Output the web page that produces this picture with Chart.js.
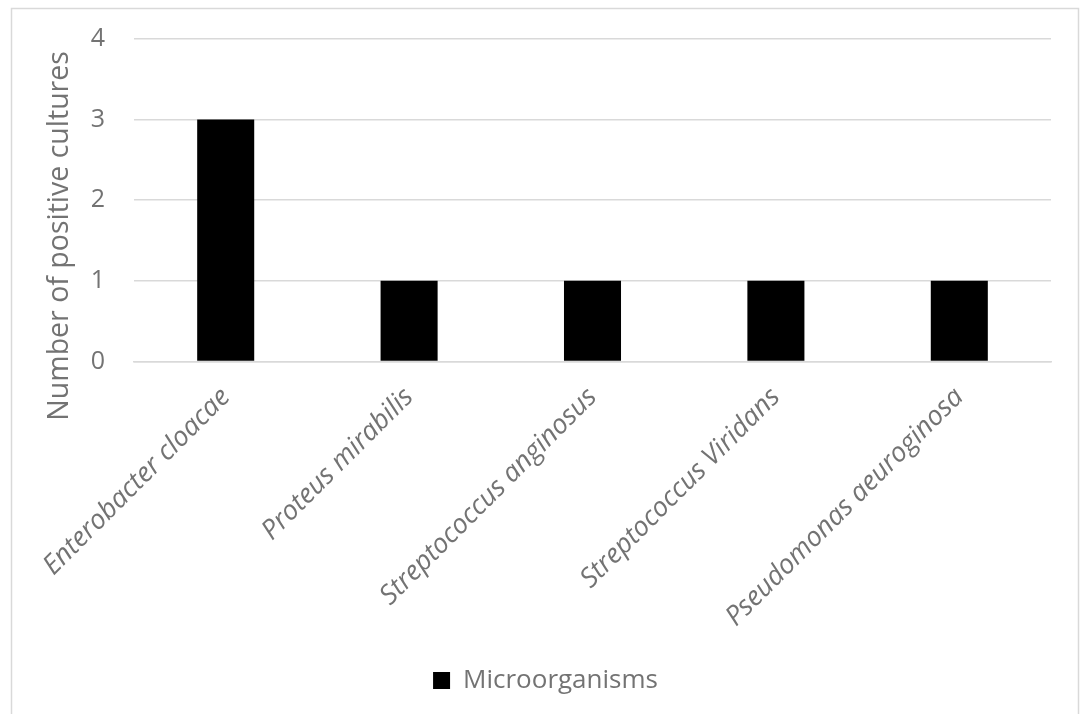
<!DOCTYPE html>
<html>
<head>
<meta charset="utf-8">
<script src="https://cdn.jsdelivr.net/npm/chart.js@4/dist/chart.umd.min.js"></script>
<style>
  html, body { margin: 0; padding: 0; background: #fff; }
  #wrap { position: relative; width: 1081px; height: 714px; }
</style>
</head>
<body>
<div id="wrap"><canvas id="chart" width="1081" height="714"></canvas></div>
<script>
const categories = [
  'Enterobacter cloacae',
  'Proteus mirabilis',
  'Streptococcus anginosus',
  'Streptococcus Viridans',
  'Pseudomonas aeuroginosa'
];
const positiveCultures = [3, 1, 1, 1, 1];
const yTicks = [0, 1, 2, 3, 4];
const seriesName = 'Microorganisms';
const yTitle = 'Number of positive cultures';

const textColor = '#737373';
const gridColor = '#d9d9d9';
const fontFamily = '"Open Sans", "Noto Sans", sans-serif';

// light frame around the whole chart
const frame = {
  id: 'frame',
  beforeDraw(chart) {
    const ctx = chart.ctx;
    ctx.save();
    ctx.fillStyle = '#fff';
    ctx.fillRect(0, 0, chart.width, chart.height);
    ctx.strokeStyle = gridColor;
    ctx.lineWidth = 1.5;
    ctx.strokeRect(11.5, 8.5, 1067, 720);
    ctx.restore();
  }
};

// vertical value-axis title, centred a little below the middle of the plot
const axisTitle = {
  id: 'axisTitle',
  afterDraw(chart) {
    const ctx = chart.ctx;
    const area = chart.chartArea;
    ctx.save();
    ctx.translate(60, area.bottom - 125.5);
    ctx.rotate(-Math.PI / 2);
    ctx.font = '28.5px ' + fontFamily;
    ctx.fillStyle = textColor;
    ctx.textAlign = 'center';
    ctx.textBaseline = 'middle';
    ctx.fillText(yTitle, 0, 0);
    ctx.restore();
  }
};

new Chart(document.getElementById('chart'), {
  type: 'bar',
  data: {
    labels: categories,
    datasets: [{
      label: seriesName,
      data: positiveCultures,
      backgroundColor: '#000000',
      borderWidth: 0,
      categoryPercentage: 1,
      barPercentage: 0.311
    }]
  },
  options: {
    responsive: false,
    animation: false,
    layout: { padding: { left: 40, right: 30, top: 39, bottom: 10.6 } },
    plugins: {
      tooltip: { enabled: false },
      legend: {
        position: 'bottom',
        labels: {
          color: textColor,
          font: { family: fontFamily, size: 26 },
          boxWidth: 17,
          boxHeight: 17,
          padding: 8
        }
      }
    },
    scales: {
      x: {
        grid: { display: false },
        border: { display: true, color: gridColor, width: 1.5 },
        ticks: {
          color: textColor,
          font: { family: fontFamily, size: 27, style: 'italic' },
          minRotation: 45,
          maxRotation: 45,
          autoSkip: false,
          padding: 12
        },
        afterFit(axis) { axis.height = 298; }
      },
      y: {
        min: 0,
        max: 4,
        afterBuildTicks(axis) { axis.ticks = yTicks.map(v => ({ value: v })); },
        grid: {
          color: gridColor,
          lineWidth: 1.5,
          drawTicks: true,
          tickLength: 26,
          tickColor: 'rgba(0,0,0,0)'
        },
        border: { display: false },
        ticks: {
          color: textColor,
          font: { family: fontFamily, size: 25 },
          padding: 3
        },
        afterFit(axis) { axis.width = 94; }
      }
    }
  },
  plugins: [frame, axisTitle]
});
</script>
</body>
</html>
